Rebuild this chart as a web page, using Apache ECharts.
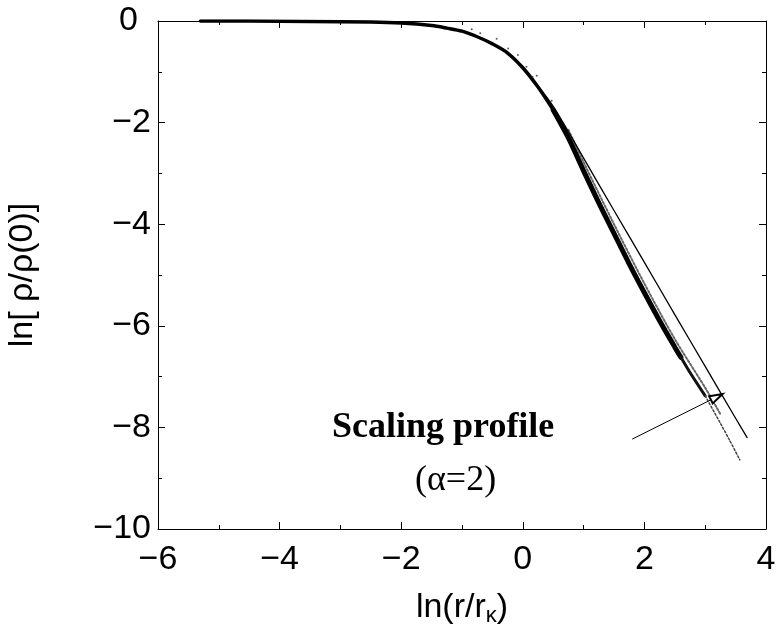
<!DOCTYPE html>
<html>
<head>
<meta charset="utf-8">
<script src="https://cdn.jsdelivr.net/npm/echarts@6/dist/echarts.min.js"></script>
<style>html,body{margin:0;padding:0;background:#fff}#c{width:776px;height:627px}</style>
</head>
<body>
<div id="c"></div>
<script>
// axis ticks
var xTicks = [-6, -4, -2, 0, 2, 4];
var yTicks = [-10, -8, -6, -4, -2, 0];

// scaling-profile cloud: flat part and knee
var coreX = [-5.3, -4.5, -3.5, -2.5, -2.0, -1.5, -1.25, -1.0, -0.75, -0.5, -0.25, 0.0, 0.25, 0.5];
var coreY = [0, 0, -0.01, -0.02, -0.04, -0.09, -0.14, -0.2, -0.31, -0.45, -0.63, -0.92, -1.3, -1.75];

// scaling-profile cloud: steep, wide part
var steepX = [0.5, 0.75, 1.0, 1.25, 1.5, 1.75, 2.0, 2.25, 2.5, 2.6];
var steepY = [-1.75, -2.3, -2.95, -3.58, -4.18, -4.78, -5.35, -5.9, -6.42, -6.62];

// cloud getting thinner further out
var midX = [2.6, 2.75, 3.0];
var midY = [-6.62, -6.92, -7.38];

// sparse tail of the cloud
var tailX = [3.0, 3.25, 3.4, 3.57];
var tailY = [-7.38, -7.92, -8.25, -8.64];

// fuzzy upper side of the cloud
var edgeX = [0.75, 1.0, 1.5, 2.0, 2.5, 3.0, 3.25];
var edgeY = [-2.14, -2.78, -4.0, -5.17, -6.26, -7.22, -7.74];

// isolated scattered points near the knee
var outX = [-0.84, -0.70, -0.43, -0.24, -0.08, 0.06, 0.16, 0.23, 0.475];
var outY = [-0.16, -0.24, -0.35, -0.54, -0.67, -0.90, -1.10, -1.08, -1.57];

// thin reference curve
var refX = [-5.3, -4.5, -3.5, -2.5, -2.0, -1.5, -1.25, -1.0, -0.75, -0.5, -0.25, 0.0, 0.25, 0.5, 0.75, 1.0, 1.5, 2.0, 2.5, 3.0, 3.5, 3.69];
var refY = [0, 0, -0.01, -0.02, -0.04, -0.09, -0.14, -0.2, -0.31, -0.45, -0.63, -0.92, -1.28, -1.68, -2.18, -2.7, -3.73, -4.75, -5.78, -6.8, -7.82, -8.2];

// annotation arrow (tail, head)
var arrowX = [1.8, 3.19];
var arrowY = [-8.23, -7.40];

function pairs(xs, ys) { return xs.map(function (x, i) { return [x, ys[i]]; }); }
function fmt(v) { return String(v).replace('-', '\u2212'); }
function fmtY(v) { return v === 0 ? '{z|0}' : fmt(v); }

var font = 'Liberation Sans, Arial, sans-serif';
var serif = 'Liberation Serif, Times New Roman, serif';

var axisCommon = {
  axisLine: { show: true, onZero: false, lineStyle: { color: '#000', width: 1 } },
  axisTick: { show: true, inside: true, length: 7, lineStyle: { color: '#000' } },
  minorTick: { show: true, splitNumber: 2, length: 4, lineStyle: { color: '#000' } },
  splitLine: { show: false }
};

function lineSeries(xs, ys, color, width, type, z) {
  return {
    type: 'line', data: pairs(xs, ys), smooth: 0.3, showSymbol: false, symbol: 'none',
    lineStyle: { color: color, width: width, type: type || 'solid', cap: 'round', join: 'round' }, z: z || 3
  };
}

var refSeries = lineSeries(refX, refY, '#000', 1.3, 'solid', 4);
refSeries.markLine = {
  silent: true, animation: false,
  symbol: ['none', 'emptyTriangle'], symbolSize: [8, 13],
  label: { show: false },
  lineStyle: { color: '#000', width: 1, type: 'solid' },
  data: [[{ coord: [arrowX[0], arrowY[0]] }, { coord: [arrowX[1], arrowY[1]] }]]
};

var chart = echarts.init(document.getElementById('c'));
chart.setOption({
  animation: false,
  backgroundColor: '#fff',
  grid: { left: 158, right: 10, top: 21, bottom: 98, outerBoundsMode: 'none', containLabel: false },
  xAxis: [
    Object.assign({
      type: 'value', min: xTicks[0], max: xTicks[xTicks.length - 1], interval: 2, position: 'bottom',
      name: 'ln(r/r{k|\u03ba})', nameLocation: 'middle', nameGap: 60,
      nameTextStyle: { fontFamily: font, fontSize: 34, color: '#000', rich: { k: { fontFamily: font, fontSize: 22, verticalAlign: 'bottom', padding: [16, 0, 0, 0] } } },
      axisLabel: { fontFamily: font, fontSize: 34, color: '#000', margin: 14, formatter: fmt }
    }, axisCommon),
    Object.assign({
      type: 'value', min: xTicks[0], max: xTicks[xTicks.length - 1], interval: 2, position: 'top',
      axisLabel: { show: false }
    }, axisCommon)
  ],
  yAxis: [
    Object.assign({
      type: 'value', min: yTicks[0], max: yTicks[yTicks.length - 1], interval: 2, position: 'left',
      name: 'ln[ \u03c1/\u03c1(0)]', nameLocation: 'middle', nameGap: 118, nameRotate: 90,
      nameTextStyle: { fontFamily: font, fontSize: 34, color: '#000' },
      axisLabel: {
        fontFamily: font, fontSize: 34, color: '#000', margin: 7, formatter: fmtY,
        rich: { z: { fontFamily: font, fontSize: 34, color: '#000', padding: [0, 13, 0, 0] } }
      }
    }, axisCommon),
    Object.assign({
      type: 'value', min: yTicks[0], max: yTicks[yTicks.length - 1], interval: 2, position: 'right',
      axisLabel: { show: false }
    }, axisCommon)
  ],
  series: [
    lineSeries(edgeX, edgeY, '#666', 2, [2, 2], 2),
    lineSeries(coreX, coreY, '#000', 3.5, 'solid', 3),
    lineSeries(steepX, steepY, '#000', 5, 'solid', 3),
    lineSeries(midX, midY, '#111', 3, 'solid', 3),
    lineSeries(tailX, tailY, '#444', 1.5, [2, 2], 3),
    {
      type: 'scatter', data: pairs(outX, outY), symbolSize: 2,
      itemStyle: { color: '#333' }, z: 3
    },
    refSeries
  ],
  graphic: [
    { type: 'text', left: 332, top: 410, style: { text: 'Scaling profile', font: 'bold 36px ' + serif, fill: '#000' } },
    { type: 'text', left: 415, top: 463, style: { text: '(\u03b1=2)', font: '36px ' + serif, fill: '#000' } }
  ]
});
</script>
</body>
</html>
